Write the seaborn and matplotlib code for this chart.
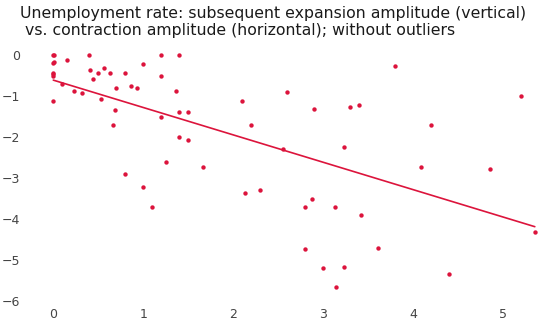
import matplotlib
matplotlib.use("Agg")
import matplotlib.pyplot as plt
import seaborn as sns
import numpy as np
import pandas as pd

# Contraction amplitude (horizontal) and subsequent expansion amplitude (vertical)
contraction = [
    0.0, 0.01, 0.0, 0.01, 0.0, 0.0, 0.0, 0.0,
    0.155, 0.097, 0.23, 0.315, 0.397, 0.41, 0.44, 0.497, 0.567, 0.633,
    0.53, 0.70, 0.68, 0.667, 0.80, 0.86, 0.93, 1.0, 0.80, 1.0, 1.1,
    1.2, 1.2, 1.2, 1.36, 1.40, 1.40, 1.50, 1.40, 1.50, 1.25, 1.663,
    2.10, 2.60, 2.196, 2.90, 3.30, 3.40, 2.556, 3.23,
    2.13, 2.30, 2.87, 2.80, 3.13, 3.42, 2.80, 3.61, 3.0, 3.23, 3.14,
    3.80, 5.20, 4.20, 4.08, 4.85, 4.40, 5.35,
]
expansion = [
    0.0, 0.0, -0.20, -0.18, -0.43, -0.47, -0.51, -1.13,
    -0.12, -0.71, -0.87, -0.92, 0.0, -0.365, -0.59, -0.44, -0.31, -0.44,
    -1.07, -0.81, -1.34, -1.70, -0.44, -0.75, -0.81, -0.21, -2.90, -3.23, -3.70,
    0.0, -0.50, -1.51, -0.88, 0.0, -1.40, -1.40, -2.01, -2.08, -2.60, -2.73,
    -1.11, -0.91, -1.70, -1.31, -1.27, -1.21, -2.30, -2.24,
    -3.37, -3.30, -3.51, -3.70, -3.70, -3.91, -4.74, -4.71, -5.20, -5.17, -5.67,
    -0.28, -1.00, -1.70, -2.73, -2.79, -5.33, -4.32,
]

x_ticks = [0, 1, 2, 3, 4, 5]
y_ticks = [0, -1, -2, -3, -4, -5, -6]

title = ("Unemployment rate: subsequent expansion amplitude (vertical)\n"
         " vs. contraction amplitude (horizontal); without outliers")

df = pd.DataFrame({"contraction": contraction, "expansion": expansion})

sns.set_theme(style="white")
plt.rcParams["font.family"] = ["DejaVu Sans"]

W, H = 542, 322
fig = plt.figure(figsize=(W / 100, H / 100), dpi=100)
left, right, top, bottom = 30, 540, 48, 302
ax = fig.add_axes([left / W, 1 - bottom / H, (right - left) / W, (bottom - top) / H])

red = "#dc143c"
sns.regplot(data=df, x="contraction", y="expansion", ax=ax, ci=None, truncate=True,
            scatter_kws=dict(s=10, color=red, linewidths=0, alpha=1),
            line_kws=dict(color=red, lw=1.2))

# pixel-to-data scaling: 90 px per x unit, 41 px per y unit
x0_px, x_scale = 53.3, 90.0
y0_px, y_scale = 55.0, 41.0
ax.set_xlim((left - x0_px) / x_scale, (right - x0_px) / x_scale)
ax.set_ylim(-(bottom - y0_px) / y_scale, -(top - y0_px) / y_scale)

ax.set_xticks(x_ticks)
ax.set_yticks(y_ticks)
ax.set_xticklabels([str(t) for t in x_ticks])
ax.set_yticklabels([("\u2212" + str(-t)) if t < 0 else str(t) for t in y_ticks])
ax.tick_params(axis="both", length=0, labelsize=9, colors="#444444")
ax.tick_params(axis="y", pad=7)
ax.tick_params(axis="x", pad=4)
ax.set_xlabel("")
ax.set_ylabel("")
for s in ax.spines.values():
    s.set_visible(False)
ax.grid(False)

fig.text(20 / W, 1 - 6 / H, title, ha="left", va="top", fontsize=11.3,
         color="#1a1a1a", linespacing=1.2)

fig.savefig("out.png", dpi=100)
